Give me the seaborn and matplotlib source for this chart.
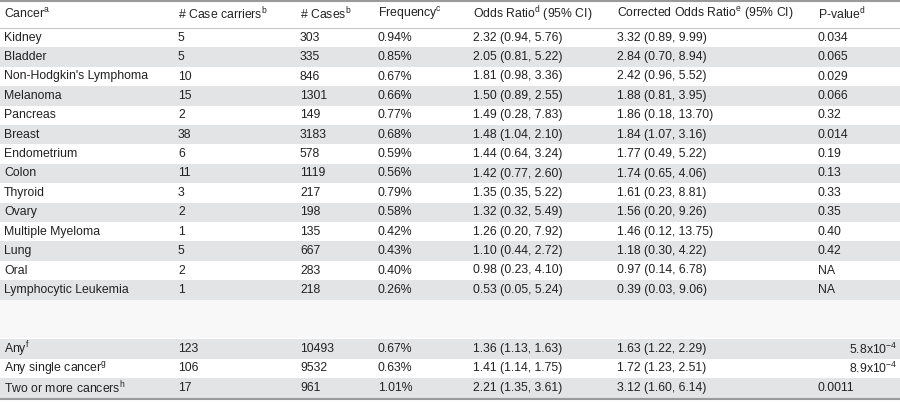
"""
Tabla de odds ratios por tipo de cáncer
"""
import matplotlib
matplotlib.use('Agg')
import matplotlib.pyplot as plt
import seaborn as sns

sns.set_theme(style="white")
plt.rcParams['font.family'] = ['Liberation Sans', 'DejaVu Sans']
plt.rcParams['mathtext.fontset'] = 'custom'
plt.rcParams['mathtext.rm'] = 'Liberation Sans'

# Datos
cancer = ['Kidney', 'Bladder', "Non-Hodgkin's Lymphoma", 'Melanoma', 'Pancreas', 'Breast',
          'Endometrium', 'Colon', 'Thyroid', 'Ovary', 'Multiple Myeloma', 'Lung', 'Oral',
          'Lymphocytic Leukemia']
carriers = [5, 5, 10, 15, 2, 38, 6, 11, 3, 2, 1, 5, 2, 1]
cases = [303, 335, 846, 1301, 149, 3183, 578, 1119, 217, 198, 135, 667, 283, 218]
freq = ['0.94%', '0.85%', '0.67%', '0.66%', '0.77%', '0.68%', '0.59%', '0.56%', '0.79%',
        '0.58%', '0.42%', '0.43%', '0.40%', '0.26%']
odds = ['2.32 (0.94, 5.76)', '2.05 (0.81, 5.22)', '1.81 (0.98, 3.36)', '1.50 (0.89, 2.55)',
        '1.49 (0.28, 7.83)', '1.48 (1.04, 2.10)', '1.44 (0.64, 3.24)', '1.42 (0.77, 2.60)',
        '1.35 (0.35, 5.22)', '1.32 (0.32, 5.49)', '1.26 (0.20, 7.92)', '1.10 (0.44, 2.72)',
        '0.98 (0.23, 4.10)', '0.53 (0.05, 5.24)']
corr_odds = ['3.32 (0.89, 9.99)', '2.84 (0.70, 8.94)', '2.42 (0.96, 5.52)', '1.88 (0.81, 3.95)',
             '1.86 (0.18, 13.70)', '1.84 (1.07, 3.16)', '1.77 (0.49, 5.22)', '1.74 (0.65, 4.06)',
             '1.61 (0.23, 8.81)', '1.56 (0.20, 9.26)', '1.46 (0.12, 13.75)', '1.18 (0.30, 4.22)',
             '0.97 (0.14, 6.78)', '0.39 (0.03, 9.06)']
pval = ['0.034', '0.065', '0.029', '0.066', '0.32', '0.014', '0.19', '0.13', '0.33', '0.35',
        '0.40', '0.42', 'NA', 'NA']

tot_names = [r'Any$^{\mathrm{f}}$', r'Any single cancer$^{\mathrm{g}}$', r'Two or more cancers$^{\mathrm{h}}$']
tot_carriers = [123, 106, 17]
tot_cases = [10493, 9532, 961]
tot_freq = ['0.67%', '0.63%', '1.01%']
tot_odds = ['1.36 (1.13, 1.63)', '1.41 (1.14, 1.75)', '2.21 (1.35, 3.61)']
tot_corr = ['1.63 (1.22, 2.29)', '1.72 (1.23, 2.51)', '3.12 (1.60, 6.14)']
tot_p = [r'5.8x10$^{-4}$', r'8.9x10$^{-4}$', '0.0011']

headers = [r'Cancer$^{\mathrm{a}}$', r'# Case carriers$^{\mathrm{b}}$', r'# Cases$^{\mathrm{b}}$',
           r'Frequency$^{\mathrm{c}}$', r'Odds Ratio$^{\mathrm{d}}$ (95% CI)',
           r'Corrected Odds Ratio$^{\mathrm{e}}$ (95% CI)', r'P-value$^{\mathrm{d}}$']

col_x = [4, 178, 300, 378, 473, 617, 818]
row_h = 19.4
gris = '#e3e4e5'
txt = '#222222'
fs = 8.8

fig = plt.figure(figsize=(9, 4.04), dpi=100)
ax = fig.add_axes([0, 0, 1, 1])
ax.set_xlim(0, 900)
ax.set_ylim(404, 0)
ax.axis('off')

# cabecera
ax.axhline(1, color='#9a9a9a', lw=1.5)
for x, h in zip(col_x, headers):
    ax.text(x, 14, h, fontsize=fs, color=txt, va='center')
ax.axhline(28, color='#c8c8c8', lw=0.8)


def fila(y, idx, vals, p_right=False):
    if idx % 2 == 1:
        ax.axhspan(y - row_h / 2, y + row_h / 2, color=gris, lw=0)
    for x, v in zip(col_x[:-1], vals[:-1]):
        ax.text(x, y, str(v), fontsize=fs, color=txt, va='center')
    if p_right:
        ax.text(897, y, vals[-1], fontsize=fs, color=txt, va='center', ha='right')
    else:
        ax.text(col_x[-1], y, vals[-1], fontsize=fs, color=txt, va='center')


y0 = 28 + row_h / 2
for i in range(len(cancer)):
    fila(y0 + i * row_h, i,
         [cancer[i], carriers[i], cases[i], freq[i], odds[i], corr_odds[i], pval[i]])

ax.axhspan(y0 + 13.5 * row_h, y0 + 15.5 * row_h, color='#f8f8f8', lw=0)
yt = y0 + 16 * row_h + 1
for j in range(3):
    fila(yt + j * row_h, j + 1,
         [tot_names[j], tot_carriers[j], tot_cases[j], tot_freq[j], tot_odds[j], tot_corr[j], tot_p[j]],
         p_right=(j < 2))
ax.axhline(yt + 2.5 * row_h + 1, color='#9a9a9a', lw=1.5)

fig.savefig('out.png', dpi=100)
